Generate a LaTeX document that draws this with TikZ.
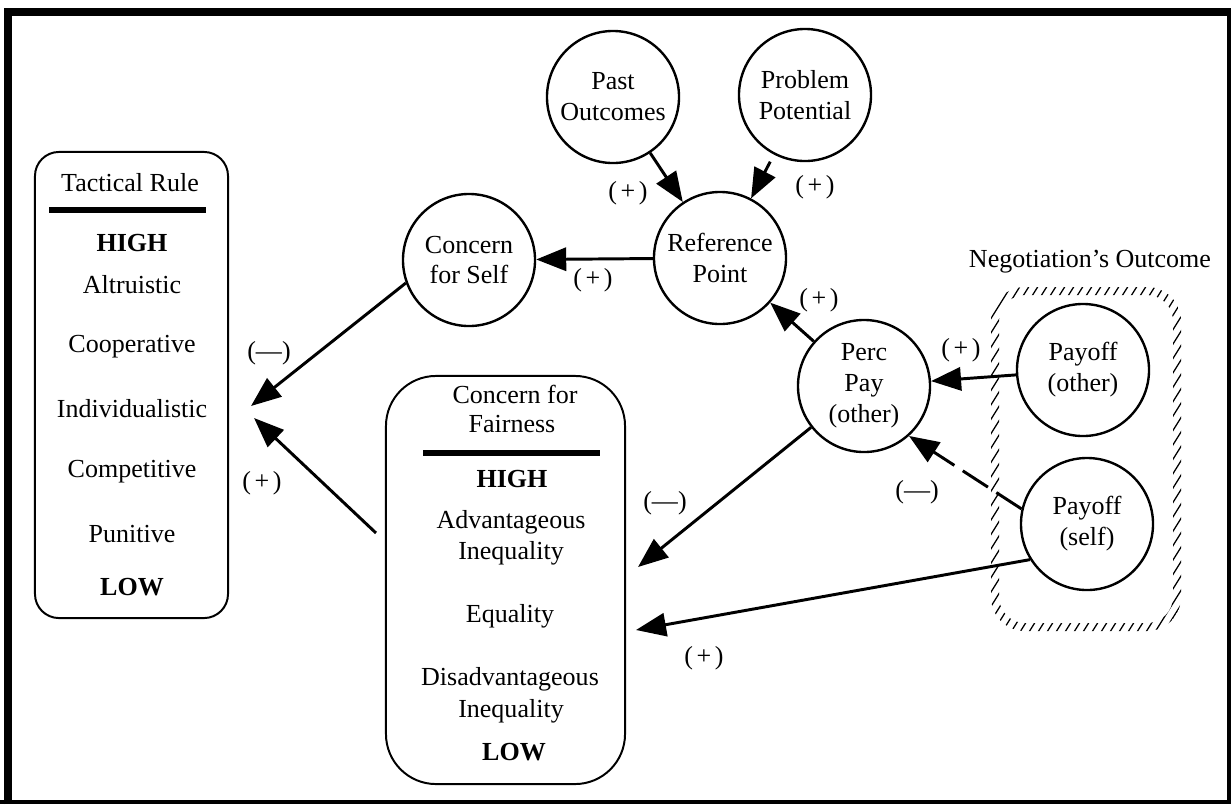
\documentclass[tikz,border=0pt]{standalone}
\usepackage{fontspec}
\setmainfont{Liberation Serif}
\usetikzlibrary{arrows.meta,calc}
\begin{document}
\begin{tikzpicture}[x=0.025cm,y=-0.025cm,
  every node/.style={font=\fontsize{18.5}{22}\selectfont},
  circ/.style={circle,draw,line width=1.7pt,minimum size=3.3cm,inner sep=0pt,align=center},
  panel/.style={draw,line width=1.4pt,rectangle,inner sep=0pt},
  txt/.style={inner sep=0pt,anchor=center},
  hi/.style={txt,font=\fontsize{18.5}{22}\selectfont\bfseries},
  sign/.style={inner sep=0pt},
  arr/.style={line width=2.1pt,-{Triangle[length=0.75cm,width=0.58cm]}},
  dasharr/.style={arr,dash pattern=on 0.75cm off 0.25cm},
  hatch/.style={line width=0.9pt}
]
\useasboundingbox (0,0) rectangle (1231,804);
% frame
\draw[line width=0.2cm] (8,804) -- (8,12) -- (1231,12);
\draw[line width=0.1cm] (1229,12) -- (1229,804);
\draw[line width=0.1cm] (0,801.5) -- (1231,801.5);

% hatched group border
\begin{scope}[even odd rule]
\clip[rounded corners=0.85cm] (991,287) rectangle (1181,631) [rounded corners=0.65cm] (999,295) rectangle (1173,623);
\foreach \k in {0,...,75} \draw[hatch] ({700+\k*9},640) -- ({700+\k*9+225},280);
\end{scope}
\node[txt] (neg) at (1090,262) {Negotiation’s Outcome};

% circles
\node[circ] (past) at (613,97) {Past\\Outcomes};
\node[circ] (prob) at (805,95) {Problem\\Potential};
\node[circ] (ref) at (720,258) {Reference\\Point};
\node[circ] (cself) at (469,260) {Concern\\for Self};
\node[circ] (perc) at (864,386) {Perc\\Pay\\(other)};
\node[circ] (payo) at (1083,370) {Payoff\\(other)};
\node[circ] (pays) at (1087,524) {Payoff\\(self)};

% tactical rule panel
\node[panel,rounded corners=0.6cm,minimum width=4.825cm,minimum height=11.65cm] (tact) at (131.5,385) {};
\node[txt] (tr) at (130,183) {Tactical Rule};
\draw[line width=0.15cm] (49,210) -- (206,210);
\node[hi] (thigh) at (132,243) {HIGH};
\node[txt] (alt) at (132,285) {Altruistic};
\node[txt] (coop) at (132,347) {Cooperative};
\node[txt] (indiv) at (132,409) {Individualistic};
\node[txt] (comp) at (132,472) {Competitive};
\node[txt] (pun) at (132,534) {Punitive};
\node[hi] (tlow) at (132,587) {LOW};

% fairness panel
\node[panel,rounded corners=1.25cm,minimum width=5.975cm,minimum height=10.2cm] (fair) at (505.5,580) {};
\node[txt] (cf1) at (515,394) {Concern for};
\node[txt] (cf2) at (512,424) {Fairness};
\draw[line width=0.13cm] (423,453) -- (600,453);
\node[hi] (fhigh) at (512,479) {HIGH};
\node[txt] (adv1) at (511,522) {Advantageous};
\node[txt] (adv2) at (511,553) {Inequality};
\node[txt] (eq) at (510,616) {Equality};
\node[txt] (dis1) at (510,679) {Disadvantageous};
\node[txt] (dis2) at (511,711) {Inequality};
\node[hi] (flow) at (514,752) {LOW};

% free ends
\coordinate (tA) at ($(tact.east)+(22,21)$);
\coordinate (tB) at ($(tact.east)+(25,33)$);
\coordinate (fS) at ($(fair.west)+(-9,-47)$);
\coordinate (fT1) at ($(fair.east)+(12,-13)$);
\coordinate (fT2) at ($(fair.east)+(10,50)$);

% connectors
\draw[arr] (past) -- (ref);
\draw[arr,shorten <=0.2cm] (prob) -- (ref);
\draw[arr] (ref) -- (cself);
\draw[arr] (perc) -- (ref);
\draw[arr] (payo) -- (perc);
\draw[dasharr] (pays.167) -- (perc.-48);
\draw[arr] (cself.200) -- (tA);
\draw[arr] (fS) -- (tB);
\draw[arr] (perc.218) -- (fT1);
\draw[arr] (pays.212) -- (fT2);

% signs
\node[sign] (s1) at (628,193) {(\kern2.5pt+\kern2.5pt)};
\node[sign] (s2) at (815,187) {(\kern2.5pt+\kern2.5pt)};
\node[sign] (s3) at (593,280) {(\kern2.5pt+\kern2.5pt)};
\node[sign] (s4) at (819,300) {(\kern2.5pt+\kern2.5pt)};
\node[sign] (s5) at (961,350) {(\kern2.5pt+\kern2.5pt)};
\node[sign] (s6) at (665,503) {(—)};
\node[sign] (s7) at (917,492) {(—)};
\node[sign] (s8) at (704,658) {(\kern2.5pt+\kern2.5pt)};
\node[sign] (s9) at (269,353) {(—)};
\node[sign] (s10) at (262,483) {(\kern2.5pt+\kern2.5pt)};
\end{tikzpicture}
\end{document}
